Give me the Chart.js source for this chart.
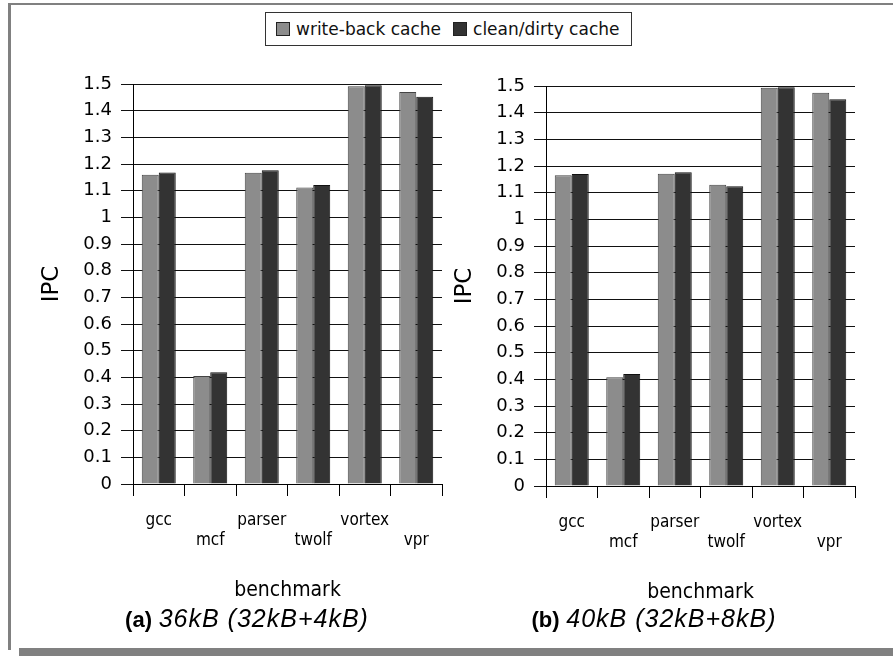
<!DOCTYPE html>
<html>
<head>
<meta charset="utf-8">
<title>IPC comparison</title>
<script src="https://cdn.jsdelivr.net/npm/chart.js@4.4.1/dist/chart.umd.min.js"></script>
<style>
  body { margin: 0; background: #fff; }
  #page { position: relative; width: 893px; height: 656px; overflow: hidden; background: #fff; }
  .frame { position: absolute; background: #808080; }
  #legend {
    position: absolute; left: 265px; top: 12px; height: 32px; padding: 0 12px 0 10px;
    border: 1px solid #333; display: flex; align-items: center;
    font: 17px "DejaVu Sans", sans-serif; color: #111; white-space: nowrap;
  }
  #legend .item { display: flex; align-items: center; margin-right: 12px; }
  #legend .item:last-child { margin-right: 0; }
  #legend .swatch { width: 12px; height: 12px; border: 1px solid #222; margin-right: 6px; }
  canvas { position: absolute; }
  .caption {
    position: absolute; width: 400px; text-align: center;
    font: 24px "Liberation Sans", Arial, sans-serif; color: #000; line-height: 26px;
  }
  .caption b { font-size: 22px; }
  .caption i { font-size: 25px; letter-spacing: 1px; }
</style>
</head>
<body>
<div id="page">
  <div class="frame" style="left:8px; top:3px; width:3px; height:647px;"></div>
  <div class="frame" style="left:8px; top:3px; right:0; height:2px;"></div>
  <div class="frame" style="left:19px; top:648px; right:0; bottom:0;"></div>

  <div id="legend"></div>

  <canvas id="chart36" width="436" height="590" style="left:12px; top:56px;"></canvas>
  <canvas id="chart40" width="436" height="590" style="left:425px; top:58px;"></canvas>

  <div class="caption" style="left:47px; top:605px;"><b>(a)</b> <i>36kB (32kB+4kB)</i></div>
  <div class="caption" style="left:454px; top:605px;"><b>(b)</b> <i>40kB (32kB+8kB)</i></div>
</div>

<script>
// benchmarks and IPC values
const benchmarks = ["gcc", "mcf", "parser", "twolf", "vortex", "vpr"];
const seriesNames = ["write-back cache", "clean/dirty cache"];
const seriesColors = ["#8c8c8c", "#333333"];
const seriesBorders = ["#444444", "#111111"];

// 36kB (32kB+4kB)
const ipc36WriteBack = [1.16, 0.405, 1.167, 1.112, 1.492, 1.47];
const ipc36CleanDirty = [1.168, 0.419, 1.177, 1.121, 1.495, 1.452];

// 40kB (32kB+8kB)
const ipc40WriteBack = [1.165, 0.408, 1.171, 1.13, 1.493, 1.475];
const ipc40CleanDirty = [1.17, 0.42, 1.177, 1.124, 1.495, 1.45];

const yTickValues = [0, 0.1, 0.2, 0.3, 0.4, 0.5, 0.6, 0.7, 0.8, 0.9, 1, 1.1, 1.2, 1.3, 1.4, 1.5];

const FONT = "'DejaVu Sans', sans-serif";
const FONT_NARROW = "'DejaVu Sans Condensed', 'DejaVu Sans', sans-serif";

// legend shared by both charts
const legendBox = document.getElementById("legend");
seriesNames.forEach(function (name, i) {
    const item = document.createElement("div");
    item.className = "item";
    const swatch = document.createElement("span");
    swatch.className = "swatch";
    swatch.style.background = seriesColors[i];
    item.appendChild(swatch);
    item.appendChild(document.createTextNode(name));
    legendBox.appendChild(item);
});

function drawIpcChart(canvasId, writeBack, cleanDirty) {
    const ctx = document.getElementById(canvasId).getContext("2d");
    const values = [writeBack, cleanDirty];

    new Chart(ctx, {
        type: "bar",
        data: {
            labels: benchmarks,
            datasets: values.map(function (data, i) {
                return {
                    label: seriesNames[i],
                    data: data,
                    backgroundColor: seriesColors[i],
                    borderColor: seriesBorders[i],
                    borderWidth: 1,
                    categoryPercentage: 0.66,
                    barPercentage: 1.0,
                };
            }),
        },
        options: {
            responsive: false,
            animation: false,
            layout: { padding: { top: 28, right: 6, left: 0, bottom: 0 } },
            plugins: {
                legend: { display: false },
                tooltip: { enabled: false },
            },
            scales: {
                x: {
                    offset: true,
                    afterFit: function (scale) { scale.height = 162; },
                    border: { color: "#000", width: 1 },
                    grid: {
                        drawOnChartArea: false,
                        drawTicks: true,
                        tickLength: 12,
                        offset: true,
                        color: function (c) { return c.index === benchmarks.length ? "rgba(0,0,0,0)" : "#000"; },
                    },
                    ticks: {
                        autoSkip: false,
                        maxRotation: 0,
                        minRotation: 0,
                        padding: 14,
                        color: "#000",
                        font: { family: FONT_NARROW, size: 17, lineHeight: 1.2 },
                        // names alternate between two rows
                        callback: function (value, index) {
                            const name = benchmarks[index];
                            return index % 2 === 0 ? [name, ""] : ["", name];
                        },
                    },
                    title: {
                        display: true,
                        text: "benchmark",
                        color: "#000",
                        font: { family: FONT_NARROW, size: 21 },
                        padding: { top: 0, bottom: 43 },
                    },
                },
                y: {
                    min: 0,
                    max: 1.5,
                    afterFit: function (scale) { scale.width = 121; },
                    afterBuildTicks: function (scale) {
                        scale.ticks = yTickValues.map(function (v) { return { value: v }; });
                    },
                    border: { color: "#000", width: 1 },
                    grid: {
                        color: "#111",
                        lineWidth: 1,
                        tickLength: 12,
                    },
                    ticks: {
                        padding: 9,
                        color: "#000",
                        font: { family: FONT, size: 18 },
                        callback: function (value) { return String(Number(value.toFixed(1))); },
                    },
                    title: {
                        display: true,
                        text: "IPC",
                        color: "#000",
                        font: { family: FONT, size: 23 },
                        padding: { top: 26, bottom: 0 },
                    },
                },
            },
        },
    });
}

drawIpcChart("chart36", ipc36WriteBack, ipc36CleanDirty);
drawIpcChart("chart40", ipc40WriteBack, ipc40CleanDirty);
</script>
</body>
</html>
